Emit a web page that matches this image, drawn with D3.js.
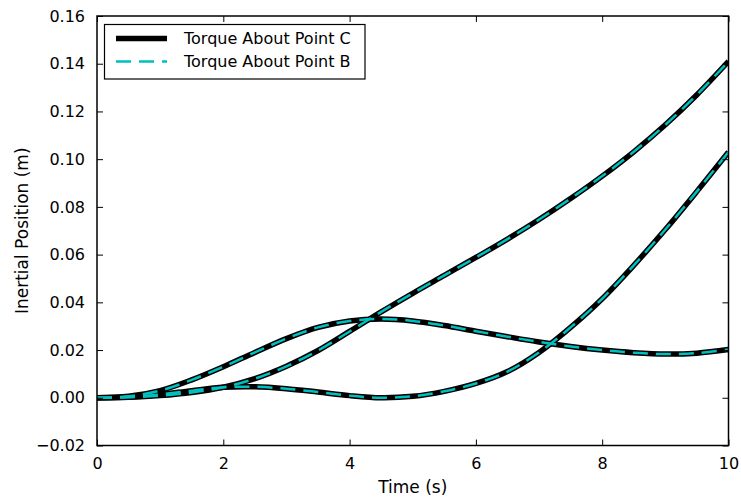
<!DOCTYPE html>
<html>
<head>
<meta charset="utf-8">
<script src="https://cdn.jsdelivr.net/npm/d3@7"></script>
<style>
  html, body { margin: 0; padding: 0; background: #fff; }
  svg { display: block; font-family: "DejaVu Sans", sans-serif; }
</style>
</head>
<body>
<svg id="chart" width="741" height="500"></svg>
<script>
// ---- data ----
const times = [0,0.5,1,1.5,2,2.5,3,3.5,4,4.5,5,5.5,6,6.5,7,7.5,8,8.5,9,9.5,10];
// three position components, torque about point C
const posC1 = [0,0.0002,0.0009,0.0022,0.0044,0.0080,0.0132,0.0198,0.0278,0.0360,0.0438,0.0513,0.0588,0.0665,0.0747,0.0835,0.0929,0.1031,0.1144,0.1270,0.1410];
const posC2 = [0,0.0006,0.0030,0.0075,0.0130,0.0190,0.0248,0.0295,0.0322,0.0330,0.0322,0.0303,0.0279,0.0256,0.0234,0.0215,0.0200,0.0189,0.0183,0.0187,0.0202];
const posC3 = [0,0.0003,0.0014,0.0030,0.0044,0.0046,0.0038,0.0024,0.0009,0.0000,0.0006,0.0027,0.0060,0.0110,0.0190,0.0295,0.0415,0.0555,0.0705,0.0865,0.1030];
// torque about point B (overlapping results)
const posB1 = posC1.slice();
const posB2 = posC2.slice();
const posB3 = posC3.slice();
const xTicks = [0,2,4,6,8,10];
const yTicks = [-0.02,0,0.02,0.04,0.06,0.08,0.10,0.12,0.14,0.16];
const legendLabels = ["Torque About Point C", "Torque About Point B"];

// ---- layout ----
const svg = d3.select("#chart");
const mLeft = 97, mRight = 728.5, mTop = 16, mBottom = 445.5;
const x = d3.scaleLinear().domain([0,10]).range([mLeft, mRight]);
const y = d3.scaleLinear().domain([-0.02,0.16]).range([mBottom, mTop]);

svg.append("defs").append("clipPath").attr("id","clip")
  .append("rect").attr("x",mLeft).attr("y",mTop).attr("width",mRight-mLeft).attr("height",mBottom-mTop);

const line = d3.line().x((d,i)=>x(times[i])).y(d=>y(d)).curve(d3.curveCatmullRom.alpha(0.5));

const plot = svg.append("g").attr("clip-path","url(#clip)");
[posC1,posC2,posC3].forEach(s=>{
  plot.append("path").attr("d", line(s)).attr("fill","none")
    .attr("stroke","#000").attr("stroke-width",5.5).attr("stroke-linejoin","round");
});
[posB1,posB2,posB3].forEach(s=>{
  plot.append("path").attr("d", line(s)).attr("fill","none")
    .attr("stroke","#00bfbf").attr("stroke-width",2.5).attr("stroke-dasharray","15,8");
});

// axes (ticks inside, on all sides)
const fmtY = d => (d < 0 ? "\u2212" : "") + d3.format(".2f")(Math.abs(d));
const tickLen = 6;
const axB = d3.axisBottom(x).tickValues(xTicks).tickSizeInner(-tickLen).tickSizeOuter(0).tickPadding(12).tickFormat(d3.format("d"));
const axT = d3.axisTop(x).tickValues(xTicks).tickSizeInner(-tickLen).tickSizeOuter(0).tickFormat("");
const axL = d3.axisLeft(y).tickValues(yTicks).tickSizeInner(-tickLen).tickSizeOuter(0).tickPadding(12).tickFormat(fmtY);
const axR = d3.axisRight(y).tickValues(yTicks).tickSizeInner(-tickLen).tickSizeOuter(0).tickFormat("");

function style(g){
  g.select(".domain").remove();
  g.selectAll(".tick line").attr("stroke","#000").attr("stroke-width",1);
  g.selectAll(".tick text").attr("fill","#000").style("font-size","16px").style("font-family","DejaVu Sans");
}
svg.append("g").attr("transform",`translate(0,${mBottom})`).call(axB).call(style);
svg.append("g").attr("transform",`translate(0,${mTop})`).call(axT).call(style);
svg.append("g").attr("transform",`translate(${mLeft},0)`).call(axL).call(style);
svg.append("g").attr("transform",`translate(${mRight},0)`).call(axR).call(style);

svg.append("rect").attr("x",mLeft).attr("y",mTop).attr("width",mRight-mLeft).attr("height",mBottom-mTop)
  .attr("fill","none").attr("stroke","#000").attr("stroke-width",1.5);

// axis labels
svg.append("text").attr("x",(mLeft+mRight)/2).attr("y",493).attr("text-anchor","middle")
  .style("font-size","17px").text("Time (s)");
svg.append("text").attr("transform",`translate(28,${(mTop+mBottom)/2}) rotate(-90)`).attr("text-anchor","middle")
  .style("font-size","17px").text("Inertial Position (m)");

// legend
const lg = svg.append("g");
lg.append("rect").attr("x",104.5).attr("y",24.5).attr("width",260.5).attr("height",54.5)
  .attr("fill","#fff").attr("stroke","#000").attr("stroke-width",1.2);
lg.append("line").attr("x1",116).attr("x2",167).attr("y1",38.5).attr("y2",38.5)
  .attr("stroke","#000").attr("stroke-width",5.5);
lg.append("line").attr("x1",116).attr("x2",167).attr("y1",61.5).attr("y2",61.5)
  .attr("stroke","#00bfbf").attr("stroke-width",2.5).attr("stroke-dasharray","15,8");
legendLabels.forEach((t,i)=>{
  lg.append("text").attr("x",184).attr("y",38.5+i*23).attr("dy","0.35em")
    .style("font-size","16px").text(t);
});
</script>
</body>
</html>
